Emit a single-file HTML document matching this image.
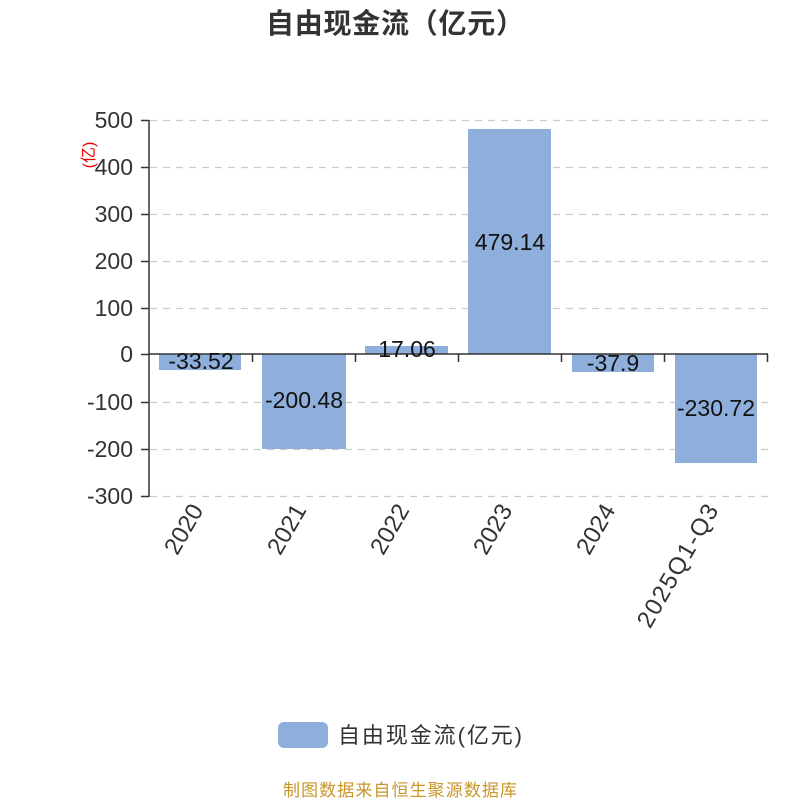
<!DOCTYPE html>
<html><head><meta charset="utf-8"><style>
body{margin:0;background:#fff;}
svg text{font-family:"Liberation Sans","Noto Sans CJK SC",sans-serif;}
</style></head><body>
<svg width="800" height="800" viewBox="0 0 800 800" xmlns="http://www.w3.org/2000/svg">
<text x="266" y="33" font-size="28" font-weight="bold" fill="#333" textLength="258">自由现金流（亿元）</text>
<g stroke="#ccc" stroke-width="1.3" stroke-dasharray="7,6">
<line x1="150" y1="120.5" x2="768" y2="120.5"/>
<line x1="150" y1="167.5" x2="768" y2="167.5"/>
<line x1="150" y1="214.5" x2="768" y2="214.5"/>
<line x1="150" y1="261.5" x2="768" y2="261.5"/>
<line x1="150" y1="308.5" x2="768" y2="308.5"/>
<line x1="150" y1="402.5" x2="768" y2="402.5"/>
<line x1="150" y1="449.5" x2="768" y2="449.5"/>
<line x1="150" y1="496.5" x2="768" y2="496.5"/>
</g>
<g fill="#8eaedb">
<rect x="159" y="354" width="82" height="16"/>
<rect x="262" y="354" width="84" height="95"/>
<rect x="365" y="346" width="83" height="8"/>
<rect x="468" y="129" width="83" height="225"/>
<rect x="572" y="354" width="82" height="18"/>
<rect x="675" y="354" width="82" height="109"/>
</g>
<g stroke="#333" stroke-width="1.5">
<line x1="149" y1="120" x2="149" y2="497"/>
<line x1="149" y1="354" x2="768" y2="354"/>
<line x1="141" y1="120.5" x2="149" y2="120.5"/>
<line x1="141" y1="167.5" x2="149" y2="167.5"/>
<line x1="141" y1="214.5" x2="149" y2="214.5"/>
<line x1="141" y1="261.5" x2="149" y2="261.5"/>
<line x1="141" y1="308.5" x2="149" y2="308.5"/>
<line x1="141" y1="354.5" x2="149" y2="354.5"/>
<line x1="141" y1="402.5" x2="149" y2="402.5"/>
<line x1="141" y1="449.5" x2="149" y2="449.5"/>
<line x1="141" y1="496.5" x2="149" y2="496.5"/>
<line x1="252.5" y1="354" x2="252.5" y2="362"/>
<line x1="355.5" y1="354" x2="355.5" y2="362"/>
<line x1="458.5" y1="354" x2="458.5" y2="362"/>
<line x1="561.5" y1="354" x2="561.5" y2="362"/>
<line x1="664.5" y1="354" x2="664.5" y2="362"/>
<line x1="767.5" y1="354" x2="767.5" y2="362"/>
</g>
<g font-size="23" fill="#333" text-anchor="end">
<text x="133" y="128">500</text>
<text x="133" y="175">400</text>
<text x="133" y="222">300</text>
<text x="133" y="269">200</text>
<text x="133" y="316">100</text>
<text x="133" y="362">0</text>
<text x="133" y="410">-100</text>
<text x="133" y="457">-200</text>
<text x="133" y="504">-300</text>
</g>
<text transform="translate(94,155) rotate(-90)" text-anchor="middle" font-size="16" fill="#e00">(亿)</text>
<g font-size="23" fill="#111" text-anchor="middle">
<text x="201" y="369">-33.52</text>
<text x="304" y="408">-200.48</text>
<text x="407" y="357">17.06</text>
<text x="510" y="250">479.14</text>
<text x="613" y="371">-37.9</text>
<text x="716" y="416">-230.72</text>
</g>
<g font-size="24" fill="#333" text-anchor="end">
<text transform="translate(204,510) rotate(-60)">2020</text>
<text transform="translate(307,510) rotate(-60)">2021</text>
<text transform="translate(410,510) rotate(-60)">2022</text>
<text transform="translate(513,510) rotate(-60)">2023</text>
<text transform="translate(616,510) rotate(-60)">2024</text>
<text transform="translate(719,510) rotate(-60)" textLength="138">2025Q1-Q3</text>
</g>
<rect x="278" y="722" width="50" height="26" rx="6" fill="#8eaedb"/>
<text x="338" y="743" font-size="22" fill="#333" textLength="184">自由现金流(亿元)</text>
<text x="283" y="796" font-size="17" fill="#c8962a" textLength="234">制图数据来自恒生聚源数据库</text>
</svg>
</body></html>
